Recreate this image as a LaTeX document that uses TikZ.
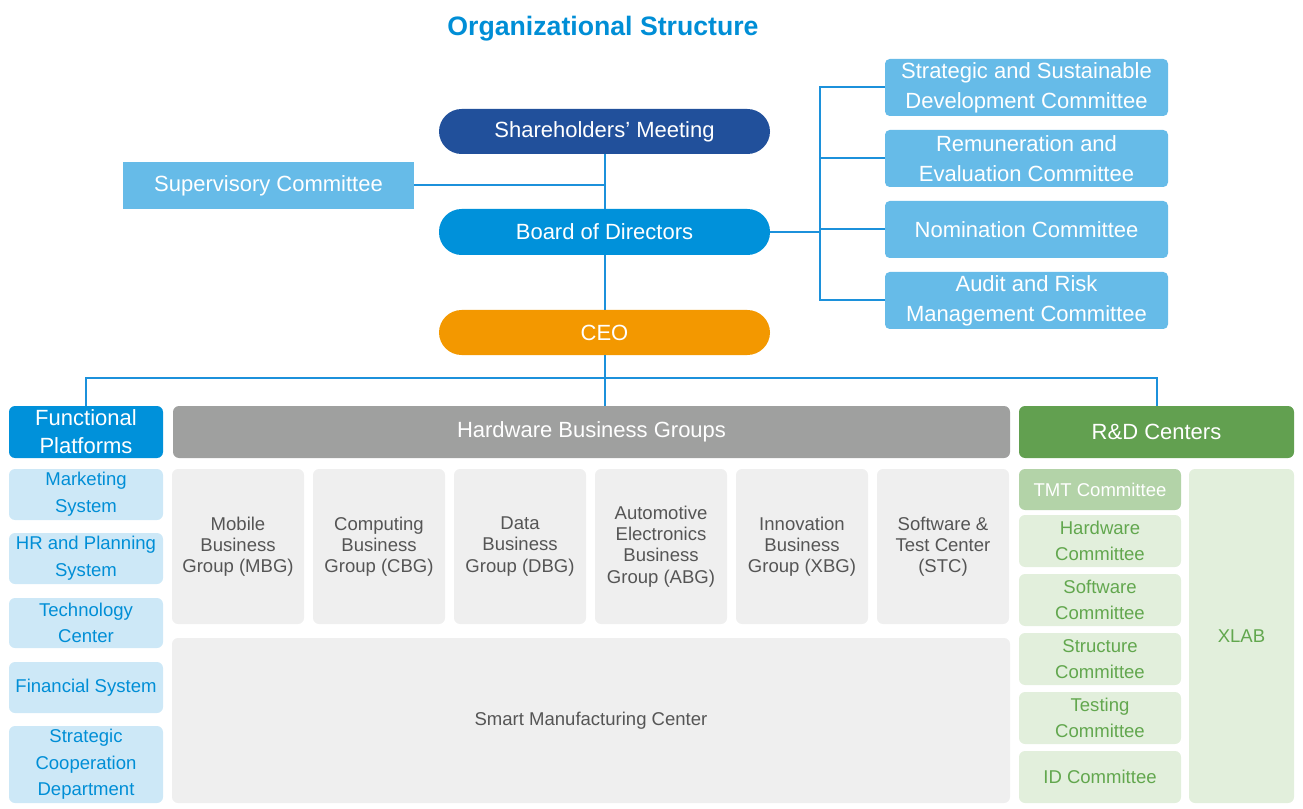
\documentclass[tikz,border=0pt]{standalone}
\usepackage{fontspec}
\setmainfont{Liberation Sans}
\definecolor{titleblue}{RGB}{0,142,214}
\definecolor{darkblue}{RGB}{33,80,155}
\definecolor{midblue}{RGB}{0,145,218}
\definecolor{skyblue}{RGB}{102,187,232}
\definecolor{paleblue}{RGB}{205,232,247}
\definecolor{lineblue}{RGB}{28,145,219}
\definecolor{ceoorange}{RGB}{243,152,0}
\definecolor{headgray}{RGB}{159,160,159}
\definecolor{cellgray}{RGB}{239,239,239}
\definecolor{textgray}{RGB}{85,85,85}
\definecolor{headgreen}{RGB}{98,160,80}
\definecolor{tmtgreen}{RGB}{179,211,168}
\definecolor{palegreen}{RGB}{226,239,220}
\definecolor{textgreen}{RGB}{98,167,78}
\tikzset{
  sz/.style 2 args={minimum width=#1*0.75pt,minimum height=#2*0.75pt},
  pill/.style={rectangle,rounded corners=17pt,inner sep=0pt,text=white,
    font=\fontsize{16.5}{22.5}\selectfont},
  comm/.style={rectangle,rounded corners=3.5pt,inner sep=0pt,fill=skyblue,text=white,
    align=center,font=\fontsize{16.5}{22.5}\selectfont},
  head/.style={rectangle,rounded corners=4.5pt,inner sep=0pt,text=white,
    align=center,font=\fontsize{16.5}{21}\selectfont},
  fpitem/.style={rectangle,rounded corners=4.5pt,inner sep=0pt,fill=paleblue,text=titleblue,
    align=center,font=\fontsize{13.9}{20}\selectfont},
  hwcell/.style={rectangle,rounded corners=4.5pt,inner sep=0pt,fill=cellgray,text=textgray,
    align=center,font=\fontsize{13.9}{15.9}\selectfont},
  rdcell/.style={rectangle,rounded corners=4.5pt,inner sep=0pt,fill=palegreen,text=textgreen,
    align=center,font=\fontsize{13.9}{19.5}\selectfont},
  link/.style={draw=lineblue,line width=1.5pt}
}
\begin{document}
\begin{tikzpicture}[x=0.75pt,y=0.75pt,yscale=-1,xscale=1]
\useasboundingbox (0,0) rectangle (1303,809);

% Title
\node[text=titleblue,font=\fontsize{20}{24}\bfseries] (title) at (603,29) {Organizational Structure};

% Governance
\node[pill,fill=darkblue,sz={331}{45}] (share) at (604.5,131.5) {Shareholders’ Meeting};
\node[pill,fill=midblue,sz={331}{46}] (board) at (604.5,232) {Board of Directors};
\node[pill,fill=ceoorange,sz={331}{45}] (ceo) at (604.5,332.5) {CEO};
\node[rectangle,inner sep=0pt,fill=skyblue,text=white,sz={291}{47},
  font=\fontsize{16.5}{22.5}\selectfont] (super) at (268.5,185.5) {Supervisory Committee};

% Board committees
\node[comm,sz={283}{57}] (strat) at (1026.5,87.5) {Strategic and Sustainable\\Development Committee};
\node[comm,sz={283}{57}] (remun) at (1026.5,158.5) {Remuneration and\\Evaluation Committee};
\node[comm,sz={283}{57}] (nomin) at (1026.5,229.5) {Nomination Committee};
\node[comm,sz={283}{57}] (audit) at (1026.5,300.5) {Audit and Risk\\Management Committee};
\coordinate (brk) at (820,232);

% Section headers
\node[head,fill=midblue,sz={154}{52}] (fp) at (86,432) {Functional\\Platforms};
\node[head,fill=headgray,sz={837}{52}] (hbg) at (591.5,432) {Hardware Business Groups};
\node[head,fill=headgreen,sz={275}{52}] (rd) at (1156.5,432) {R\&D Centers};

% Functional platforms
\node[fpitem,sz={154}{51}] (mkt) at (86,494.5) {Marketing\\System};
\node[fpitem,sz={154}{51}] (hrp) at (86,558.5) {HR and Planning\\System};
\node[fpitem,sz={154}{50}] (tech) at (86,623) {Technology\\Center};
\node[fpitem,sz={154}{51}] (fin) at (86,687.5) {Financial System};
\node[fpitem,sz={154}{77}] (scd) at (86,764.5) {Strategic\\Cooperation\\Department};

% Hardware business groups
\node[hwcell,sz={132}{155}] (mbg) at (238,546.5) {Mobile\\Business\\Group (MBG)};
\node[hwcell,sz={132}{155}] (cbg) at (379,546.5) {Computing\\Business\\Group (CBG)};
\node[hwcell,sz={132}{155}] (dbg) at (520,546.5) {Data\\Business\\Group (DBG)};
\node[hwcell,sz={132}{155}] (abg) at (661,546.5) {Automotive\\Electronics\\Business\\Group (ABG)};
\node[hwcell,sz={132}{155}] (xbg) at (802,546.5) {Innovation\\Business\\Group (XBG)};
\node[hwcell,sz={132}{155}] (stc) at (943,546.5) {Software \&\\Test Center\\(STC)};
\node[hwcell,sz={838}{165}] (smc) at (591,720.5) {Smart Manufacturing Center};

% R&D centers
\node[rdcell,fill=tmtgreen,text=white,sz={162}{41}] (tmt) at (1100,489.5) {TMT Committee};
\node[rdcell,sz={162}{52}] (hwc) at (1100,541) {Hardware\\Committee};
\node[rdcell,sz={162}{52}] (swc) at (1100,600) {Software\\Committee};
\node[rdcell,sz={162}{52}] (stru) at (1100,659) {Structure\\Committee};
\node[rdcell,sz={162}{52}] (test) at (1100,718) {Testing\\Committee};
\node[rdcell,sz={162}{52}] (idc) at (1100,777) {ID Committee};
\node[rdcell,sz={105}{334}] (xlab) at (1241.5,636) {XLAB};

% Connectors
\draw[link] (share.south) -- (board.north);
\draw[link] (super.east) -- (super.east -| share.south);
\draw[link] (board.south) -- (ceo.north);
\draw[link] (board.east) -- (brk);
\draw[link] (strat.west) -| (brk) |- (audit.west);
\draw[link] (remun.west) -- (remun.west -| brk);
\draw[link] (nomin.west) -- (nomin.west -| brk);
\coordinate (bus) at (604.5,378);
\draw[link] (ceo.south) -- (ceo.south |- hbg.north);
\draw[link] (fp.north) |- (bus) -| (rd.north);

\end{tikzpicture}
\end{document}
